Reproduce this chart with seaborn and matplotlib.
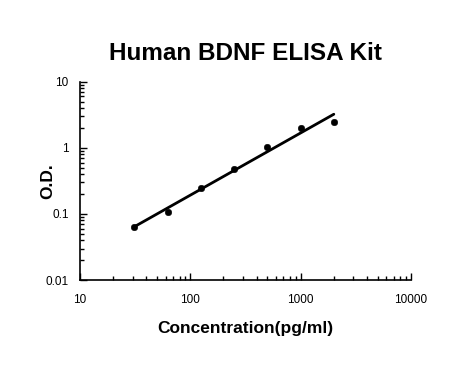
import numpy as np
import pandas as pd
import matplotlib
matplotlib.use("Agg")
import matplotlib.pyplot as plt
import seaborn as sns
from matplotlib.ticker import LogLocator, FixedFormatter, FixedLocator, NullFormatter

concentration = [31.25, 62.5, 125, 250, 500, 1000, 2000]
od = [0.0635, 0.107, 0.245, 0.48, 1.03, 2.0, 2.48]
x_ticks = [10, 100, 1000, 10000]
x_tick_labels = ["10", "100", "1000", "10000"]
y_ticks = [0.01, 0.1, 1, 10]
y_tick_labels = ["0.01", "0.1", "1", "10"]

sns.set_style("ticks")
plt.rcParams['font.family'] = ['Liberation Sans', 'DejaVu Sans']
plt.rcParams['text.color'] = 'black'
plt.rcParams['axes.labelcolor'] = 'black'

df = pd.DataFrame({"conc": concentration, "od": od})

# log-log linear fit
coef = np.polyfit(np.log10(df["conc"]), np.log10(df["od"]), 1)
fit_x = np.array([min(concentration), max(concentration)])
fit_y = 10 ** np.polyval(coef, np.log10(fit_x))
fit_df = pd.DataFrame({"conc": fit_x, "od": fit_y})

fig = plt.figure(figsize=(4.67, 3.67), dpi=100)
ax = fig.add_axes([0.171, 0.237, 0.709, 0.540])

sns.lineplot(data=fit_df, x="conc", y="od", ax=ax, color="black", linewidth=2)
sns.scatterplot(data=df, x="conc", y="od", ax=ax, color="black", s=22, edgecolor="black", zorder=3)

ax.set_xscale("log")
ax.set_yscale("log")
ax.set_xlim(10, 10000)
ax.set_ylim(0.01, 10)

ax.xaxis.set_major_locator(FixedLocator(x_ticks))
ax.xaxis.set_major_formatter(FixedFormatter(x_tick_labels))
ax.yaxis.set_major_locator(FixedLocator(y_ticks))
ax.yaxis.set_major_formatter(FixedFormatter(y_tick_labels))
ax.xaxis.set_minor_locator(LogLocator(base=10, subs=np.arange(2, 10)))
ax.yaxis.set_minor_locator(LogLocator(base=10, subs=np.arange(2, 10)))
ax.xaxis.set_minor_formatter(NullFormatter())
ax.yaxis.set_minor_formatter(NullFormatter())

ax.tick_params(which="major", direction="in", length=5, width=1, labelsize=8.5,
               colors="black", labelcolor="black", pad=10)
ax.tick_params(which="minor", direction="in", length=3, width=1, colors="black")
ax.tick_params(axis="y", which="major", pad=8)

sns.despine(ax=ax)
for s in ["left", "bottom"]:
    ax.spines[s].set_linewidth(1.2)
    ax.spines[s].set_color("black")

ax.set_xlabel("Concentration(pg/ml)", fontsize=12.5, fontweight="bold", color="black")
ax.set_ylabel("O.D.", fontsize=12.5, fontweight="bold", color="black")
ax.xaxis.set_label_coords(0.5, -0.205)
ax.yaxis.set_label_coords(-0.075, 0.5)
fig.suptitle("Human BDNF ELISA Kit", fontsize=17.5, fontweight="bold", x=0.525, y=0.885, color="black")

fig.savefig("out.png", dpi=100)
